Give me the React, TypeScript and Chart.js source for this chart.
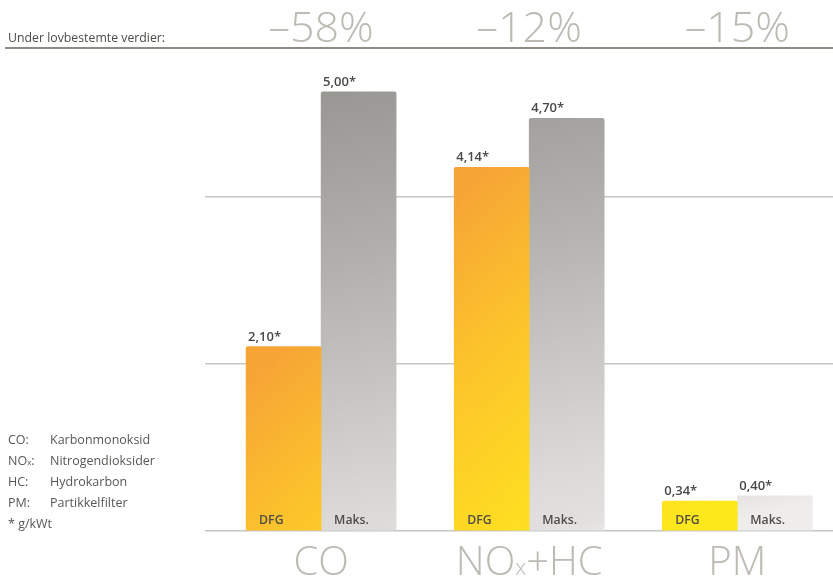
import React, { useEffect, useRef } from "react";
import { Chart, registerables } from "chart.js";

Chart.register(...registerables);

// ---- data ----
const categories = ["CO", "NOx+HC", "PM"];
const dfgValues = [2.1, 4.14, 0.34];
const maksValues = [5.0, 4.7, 0.4];
const reductions = ["–58%", "–12%", "–15%"];
const seriesNames = ["DFG", "Maks."];
const gridValues = [0, 1.9, 3.8];
const headerText = "Under lovbestemte verdier:";
const legendAbbr = ["CO", "NOx", "HC", "PM"];
const legendNames = ["Karbonmonoksid", "Nitrogendioksider", "Hydrokarbon", "Partikkelfilter"];
const unitNote = "* g/kWt";

const FONT = "'Open Sans', 'DejaVu Sans', sans-serif";
const LIGHT = "#bdb9b3";
const DARK = "#4a4846";

function fmt(v: number) {
  return v.toFixed(2).replace(".", ",") + "*";
}

function drawSubLabel(ctx: CanvasRenderingContext2D, label: string, cx: number, baseline: number, size: number) {
  const idx = label.indexOf("NOx");
  const parts: { t: string; small: boolean }[] = [];
  if (idx >= 0) {
    if (idx > 0) parts.push({ t: label.slice(0, idx), small: false });
    parts.push({ t: "NO", small: false });
    parts.push({ t: "x", small: true });
    const rest = label.slice(idx + 3);
    if (rest) parts.push({ t: rest, small: false });
  } else {
    parts.push({ t: label, small: false });
  }
  const big = `300 ${size}px ${FONT}`;
  const small = `300 ${Math.round(size * 0.55)}px ${FONT}`;
  let total = 0;
  const widths = parts.map((p) => {
    ctx.font = p.small ? small : big;
    const w = ctx.measureText(p.t).width;
    total += w;
    return w;
  });
  let x = cx - total / 2;
  ctx.textAlign = "left";
  parts.forEach((p, i) => {
    ctx.font = p.small ? small : big;
    ctx.fillText(p.t, x, baseline);
    x += widths[i];
  });
}

const overlayPlugin = {
  id: "overlay",
  afterDatasetsDraw(chart: any) {
    const ctx: CanvasRenderingContext2D = chart.ctx;
    const xs = chart.scales.x;
    ctx.save();
    ctx.strokeStyle = "#6a6358";
    ctx.lineWidth = 1.6;
    ctx.beginPath();
    ctx.moveTo(5, 48);
    ctx.lineTo(chart.width, 48);
    ctx.stroke();
    ctx.fillStyle = "#4d4b48";
    ctx.font = `12.3px ${FONT}`;
    ctx.textAlign = "left";
    ctx.textBaseline = "alphabetic";
    ctx.fillText(headerText, 8, 42);
    ctx.fillStyle = LIGHT;
    categories.forEach((c, i) => {
      const x = xs.getPixelForValue(i);
      ctx.font = `300 43px ${FONT}`;
      ctx.textAlign = "center";
      ctx.fillText(reductions[i], x, 42);
      drawSubLabel(ctx, c, x, 575, 40);
    });
    chart.data.datasets.forEach((ds: any, di: number) => {
      const meta = chart.getDatasetMeta(di);
      meta.data.forEach((bar: any, i: number) => {
        const p = bar.getProps(["x", "y", "width", "base"], true);
        const left = p.x - p.width / 2;
        ctx.fillStyle = DARK;
        ctx.textAlign = "left";
        ctx.font = `600 13px ${FONT}`;
        ctx.fillText(fmt(ds.data[i].y), left + 2, p.y - 6);
        ctx.fillStyle = "#4f4d4a";
        ctx.font = `600 12.3px ${FONT}`;
        ctx.fillText(seriesNames[di], left + 13, p.base - 6);
      });
    });
    ctx.restore();
  },
};

let orangeGrad: CanvasGradient | null = null;
let grayGrad: CanvasGradient | null = null;

function orangeFill(c: any) {
  const ctx = c.chart.ctx as CanvasRenderingContext2D;
  if (!orangeGrad) {
    const g = ctx.createLinearGradient(0, 590, 267, 897);
    g.addColorStop(0, "#f6a436");
    g.addColorStop(0.34, "#fcc42b");
    g.addColorStop(0.68, "#fedc22");
    g.addColorStop(1, "#fde81c");
    orangeGrad = g;
  }
  return orangeGrad;
}

function grayFill(c: any) {
  const ctx = c.chart.ctx as CanvasRenderingContext2D;
  if (!grayGrad) {
    const g = ctx.createLinearGradient(0, 80, 180, 900);
    g.addColorStop(0, "#92908b");
    g.addColorStop(0.12, "#9c9a96");
    g.addColorStop(0.3, "#b2b0ac");
    g.addColorStop(0.6, "#dcdad7");
    g.addColorStop(0.66, "#e1e0de");
    g.addColorStop(0.7, "#eeedeb");
    g.addColorStop(1, "#f2f1f0");
    grayGrad = g;
  }
  return grayGrad;
}

export default function App() {
  const ref = useRef<HTMLCanvasElement>(null);
  useEffect(() => {
    document.body.style.margin = "0";
    orangeGrad = null;
    grayGrad = null;
    const chart = new Chart(ref.current as HTMLCanvasElement, {
      type: "bar",
      data: {
        datasets: [
          {
            label: seriesNames[0],
            data: dfgValues.map((v, i) => ({ x: i, y: v })),
            backgroundColor: orangeFill as any,
            borderRadius: { topLeft: 2, topRight: 2, bottomLeft: 0, bottomRight: 0 },
            borderSkipped: "start",
          },
          {
            label: seriesNames[1],
            data: maksValues.map((v, i) => ({ x: i, y: v })),
            backgroundColor: grayFill as any,
            borderRadius: { topLeft: 2, topRight: 2, bottomLeft: 0, bottomRight: 0 },
            borderSkipped: "start",
          },
        ],
      },
      options: {
        responsive: false,
        animation: false,
        events: [],
        barThickness: 75,
        layout: { padding: { left: 205, top: 48, bottom: 47, right: 0 } },
        plugins: { legend: { display: false }, tooltip: { enabled: false } },
        scales: {
          x: {
            type: "linear",
            display: false,
            offset: false,
            bounds: "data",
            min: -0.558,
            max: 2.46,
            grid: { offset: false },
          },
          y: {
            min: 0,
            max: 5.5,
            afterBuildTicks: (s: any) => {
              s.ticks = gridValues.map((v) => ({ value: v }));
            },
            ticks: { display: false },
            border: { display: false },
            grid: { color: "#c6c6c6", lineWidth: 1.6, drawTicks: false },
          },
        },
      } as any,
      plugins: [overlayPlugin],
    });
    return () => chart.destroy();
  }, []);

  return (
    <div style={{ position: "relative", width: 833, height: 578 }}>
      <canvas ref={ref} width={833} height={578} style={{ display: "block" }} />
      <div
        style={{
          position: "absolute",
          left: 8,
          top: 430,
          fontFamily: FONT,
          fontSize: 12.5,
          lineHeight: "20.7px",
          color: "#595754",
        }}
      >
        {legendAbbr.map((a, i) => (
          <div key={a} style={{ display: "flex" }}>
            <span style={{ width: 42, display: "inline-block" }}>
              {a === "NOx" ? (
                <>
                  NO<span style={{ fontSize: 8 }}>x</span>
                </>
              ) : (
                a
              )}
              :
            </span>
            <span>{legendNames[i]}</span>
          </div>
        ))}
        <div>{unitNote}</div>
      </div>
    </div>
  );
}
